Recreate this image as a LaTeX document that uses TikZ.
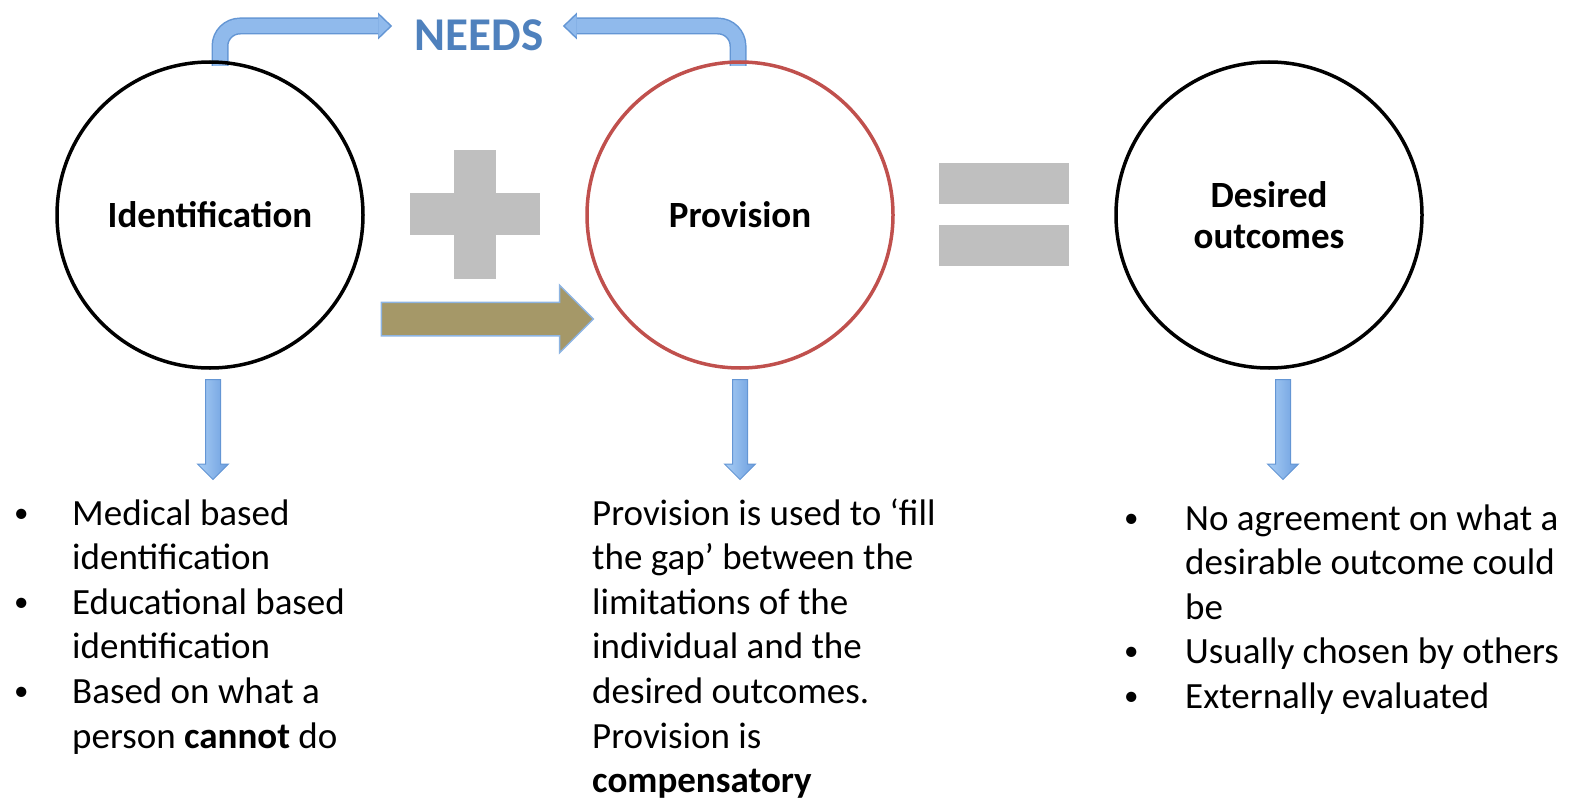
\documentclass[tikz,border=0pt]{standalone}
\usepackage{fontspec}
\setmainfont{Carlito}
\usetikzlibrary{positioning,calc,shapes.arrows,arrows.meta}

\definecolor{needsblue}{RGB}{79,129,189}
\definecolor{arrowedge}{RGB}{100,150,212}
\definecolor{arrowlight}{RGB}{168,205,245}
\definecolor{arrowdark}{RGB}{108,158,222}
\definecolor{provred}{RGB}{192,80,77}
\definecolor{signgray}{RGB}{191,191,191}
\definecolor{olivefill}{RGB}{165,152,104}
\definecolor{oliveedge}{RGB}{141,180,226}

\newcommand{\bul}{\raisebox{3pt}{\fontsize{29}{30}\selectfont\textbullet}}

\tikzset{
  bigcircle/.style={circle,draw=black,line width=3.5pt,minimum size=306pt,inner sep=0pt,
    font=\fontsize{37}{41}\selectfont\bfseries,align=center},
  listtext/.style={inner sep=0pt,anchor=base west,font=\fontsize{37}{44.6}\selectfont},
  downarrow/.style={single arrow,rotate=-90,draw=arrowedge,line width=1pt,
    left color=arrowlight,right color=arrowdark,minimum height=100pt,
    inner xsep=0pt,inner ysep=7pt,single arrow head extend=8pt},
  needsedge/.style={draw=arrowedge,line width=17pt,rounded corners=20pt,
    -{Triangle[width=27pt,length=14pt,line width=0pt]}},
  needsfill/.style={draw=arrowlight!60!arrowdark,line width=14pt,rounded corners=20pt,
    -{Triangle[width=22pt,length=11.5pt,line width=0pt]},shorten >=2.2pt},
}

\begin{document}
\begin{tikzpicture}[x=1pt,y=-1pt]
  \useasboundingbox (0,0) rectangle (1572,800);

  % needs label and its two bent arrows
  \node[text=needsblue,font=\fontsize{47}{50}\selectfont\bfseries] (needs) at (479,35) {NEEDS};
  \coordinate (lstart) at (220,66);
  \coordinate (rstart) at (738,66);
  \draw[needsedge] (lstart) |- ($(needs.west)+(-19,-9)$);
  \draw[needsfill] (lstart) |- ($(needs.west)+(-19,-9)$);
  \draw[needsedge] (rstart) |- ($(needs.east)+(16,-9)$);
  \draw[needsfill] (rstart) |- ($(needs.east)+(16,-9)$);

  % the three circles
  \node[bigcircle] (ident) at (210,215) {Identification};
  \node[bigcircle,draw=provred] (prov) at (740,215) {Provision};
  \node[bigcircle] (outcome) at (1269,215) {Desired\\outcomes};

  % plus and equals
  \fill[signgray] (410,193) rectangle (540,235);
  \fill[signgray] (454,150) rectangle (496,279);
  \fill[signgray] (939,163) rectangle (1069,204);
  \fill[signgray] (939,225) rectangle (1069,266);

  \node[single arrow,draw=oliveedge,fill=olivefill,line width=1.5pt,minimum height=212pt,
    inner xsep=0pt,inner ysep=16pt,single arrow head extend=17pt] (gap) at (479,319) {};

  % down arrows
  \node[downarrow] (identdown) at ($(ident.south)+(3,56)$) {};
  \node[downarrow] (provdown) at ($(prov.south)+(0,56)$) {};
  \node[downarrow] (outdown) at ($(outcome.south)+(14,56)$) {};

  % texts under the arrows
  \node[listtext] (identlist) at (14,525) {\begin{tabular}[t]{@{}p{58pt}@{}l@{}}
    \bul & Medical based\\
         & identification\\
    \bul & Educational based\\
         & identification\\
    \bul & Based on what a\\
         & person \textbf{cannot} do
  \end{tabular}};
  \node[listtext] (provtext) at (592,525) {\begin{tabular}[t]{@{}l@{}}
    Provision is used to ‘fill\\
    the gap’ between the\\
    limitations of the\\
    individual and the\\
    desired outcomes.\\
    Provision is\\
    \textbf{compensatory}
  \end{tabular}};
  \node[listtext] (outlist) at (1124,530) {\begin{tabular}[t]{@{}p{61pt}@{}l@{}}
    \bul & No agreement on what a\\
         & desirable outcome could\\
         & be\\
    \bul & Usually chosen by others\\
    \bul & Externally evaluated
  \end{tabular}};
\end{tikzpicture}
\end{document}
